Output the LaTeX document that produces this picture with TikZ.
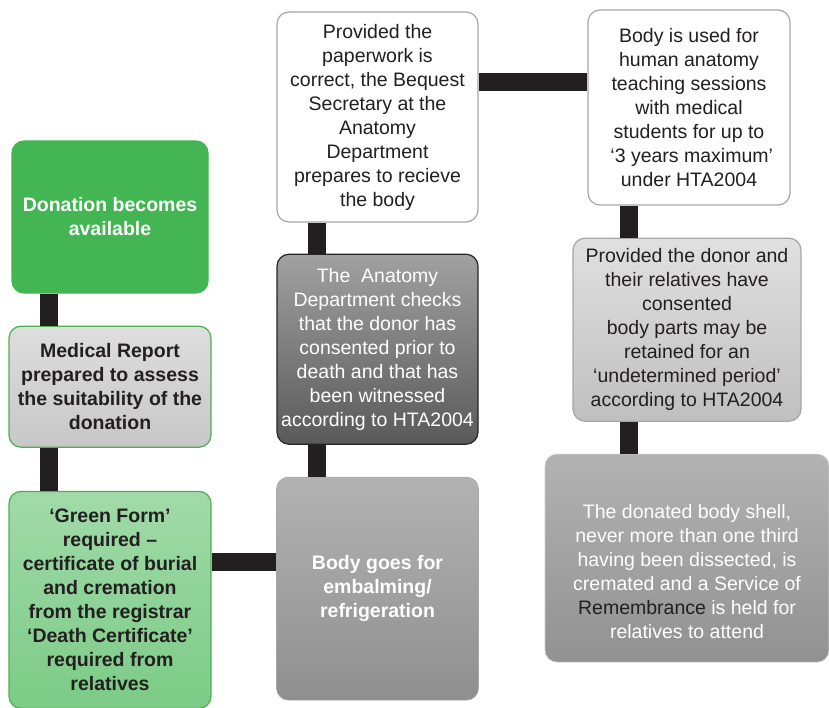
\documentclass[tikz,border=0pt]{standalone}
\usepackage{fontspec}
\setmainfont{Liberation Sans}
\usetikzlibrary{positioning}
\definecolor{bar}{HTML}{231F20}
\definecolor{txtdark}{HTML}{231F20}
\definecolor{leaf}{RGB}{67,181,82}
\definecolor{leafline}{HTML}{4CB050}
\definecolor{greyline}{HTML}{A6A6A8}
\tikzset{
stage/.style={draw,rounded corners=12pt,align=center,inner sep=0pt,line width=1.2pt,font=\fontsize{19.5}{24}\selectfont},
start/.style={stage,fill=leaf,draw=leaf,text=white,font=\fontsize{19.5}{24}\selectfont\bfseries},
report/.style={stage,top color=black!13,bottom color=black!22,draw=leafline,text=txtdark,font=\fontsize{19.5}{24}\selectfont\bfseries},
form/.style={stage,top color=leaf!50,bottom color=leaf!70,draw=leafline,text=txtdark,font=\fontsize{19.5}{24}\selectfont\bfseries},
store/.style={stage,top color=black!30,bottom color=black!44,draw=black!35,line width=.6pt,text=white,font=\fontsize{19.5}{24}\selectfont\bfseries},
check/.style={stage,top color=black!37,bottom color=black!65,draw=black!85,text=white},
note/.style={stage,fill=white,draw=greyline,text=txtdark},
retain/.style={stage,top color=black!12,bottom color=black!25,draw=greyline,text=txtdark},
finish/.style={stage,top color=black!30,bottom color=black!43,draw=black!20,line width=.6pt,text=white},
finishtext/.style={align=center,inner sep=0pt,text=white,font=\fontsize{19.5}{24}\selectfont},
link/.style={draw=bar,line width=18pt}
}
\begin{document}
\begin{tikzpicture}[x=1pt,y=-1pt]
\useasboundingbox (0,0) rectangle (829,708);
\node[start,minimum width=196pt,minimum height=152pt] (don) at (110,217) {Donation becomes\\available};
\node[report,minimum width=202pt,minimum height=121pt,below=32pt of don] (rep) {Medical Report\\prepared to assess\\the suitability of the\\donation};
\node[form,minimum width=202pt,minimum height=217pt,below=43pt of rep] (grn) {‘Green Form’\\required –\\certificate of burial\\and cremation\\from the registrar\\‘Death Certificate’\\required from\\relatives};
\node[note,minimum width=201pt,minimum height=210pt] (sec) at (377.5,117) {Provided the\\paperwork is\\correct, the Bequest\\Secretary at the\\Anatomy\\Department\\prepares to recieve\\the body};
\node[check,minimum width=201pt,minimum height=190pt,below=31pt of sec] (chk) {The\ \ Anatomy\\Department checks\\that the donor has\\consented prior to\\death and that has\\been witnessed\\according to HTA2004};
\node[store,minimum width=202pt,minimum height=223pt,below=32pt of chk] (emb) {Body goes for\\embalming/\\refrigeration};
\node[note,minimum width=202pt,minimum height=195pt] (use) at (689,107.5) {Body is used for\\human anatomy\\teaching sessions\\with medical\\students for up to\\\ ‘3 years maximum’\\under HTA2004};
\node[retain,minimum width=228pt,minimum height=183pt,below=32pt of use,xshift=-2pt] (ret) {Provided the donor and\\their relatives have\\consented\\body parts may be\\retained for an\\‘undetermined period’\\according to HTA2004};
\node[finish,minimum width=284pt,minimum height=208pt,below=32pt of ret,
  label={[finishtext,yshift=-13pt]center:The donated body shell,\\never more than one third\\having been dissected, is\\cremated and a Service of\\{\color{txtdark}Remembrance} is held for\\relatives to attend}] (crm) {};
\draw[link] ([xshift=38pt]don.south west) -- ([xshift=38pt]don.south west |- rep.north);
\draw[link] ([xshift=41pt]rep.south west) -- ([xshift=41pt]rep.south west |- grn.north);
\draw[link] ([yshift=27pt]emb.west) -- ([yshift=27pt]emb.west -| grn.east);
\draw[link] ([xshift=41pt]emb.north west) -- ([xshift=41pt]emb.north west |- chk.south);
\draw[link] ([xshift=41pt]chk.north west) -- ([xshift=41pt]chk.north west |- sec.south);
\draw[link] ([yshift=35pt]sec.east) -- ([yshift=35pt]sec.east -| use.west);
\draw[link] ([xshift=42pt]use.south west) -- ([xshift=42pt]use.south west |- ret.north);
\draw[link] ([xshift=42pt]use.south west |- ret.south) -- ([xshift=42pt]use.south west |- crm.north);
\end{tikzpicture}
\end{document}
